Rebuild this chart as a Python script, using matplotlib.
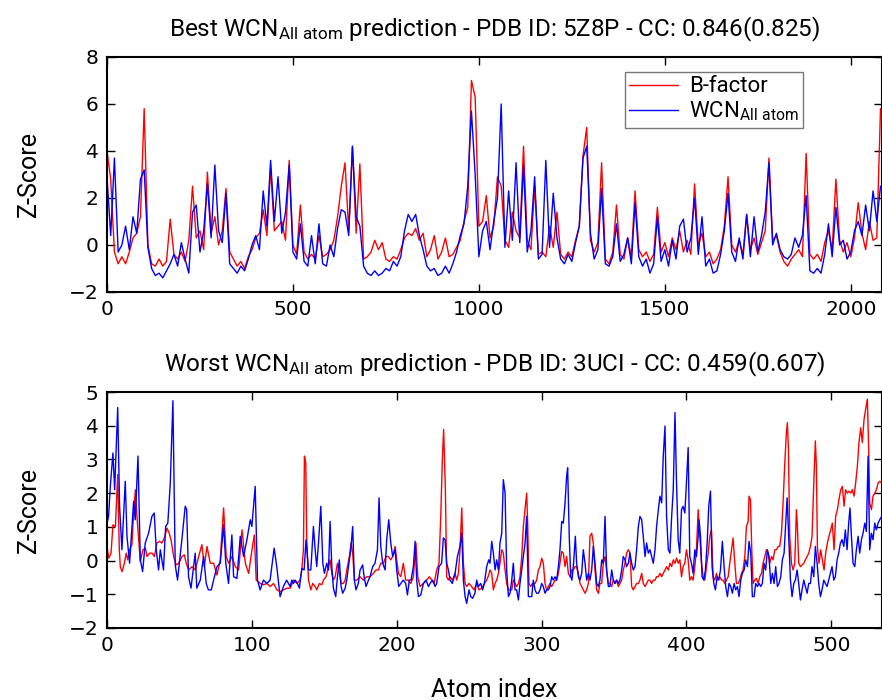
import matplotlib.pyplot as plt

plt.rcParams['font.family'] = ['Roboto', 'DejaVu Sans']
plt.rcParams['mathtext.fontset'] = 'custom'
plt.rcParams['mathtext.rm'] = 'Roboto'
plt.rcParams['mathtext.it'] = 'Roboto'

# Best case (5Z8P): values sampled every 10 atoms
best_atom = list(range(0, 2090, 10))
best_bfactor = [
    4.0, 2.8, -0.3, -0.8, -0.5, -0.8, -0.3, 0.3, 0.5, 1.2,
    5.8, 0.0, -0.8, -0.9, -0.6, -0.9, -0.7, 1.1, -0.4, -0.6,
    -0.3, -0.7, 0.2, 2.5, 0.3, 0.6, -0.2, 3.1, 0.5, 1.2,
    0.0, 0.6, 2.4, -0.3, -0.6, -0.9, -0.7, -1.0, -0.5, -0.2,
    0.3, 0.5, 1.5, 0.4, 3.3, 0.6, 0.8, 1.0, 0.2, 3.6,
    0.0, -0.4, 1.7, -0.3, -0.6, -0.4, -0.6, 0.4, -0.5, -0.4,
    -0.2, 0.2, 1.2, 2.5, 3.5, 0.6, 4.2, 0.5, 3.45, -0.6,
    -0.5, -0.3, 0.2, -0.2, 0.1, -0.6, -0.7, -0.5, -0.6, -0.2,
    0.3, 0.5, 0.4, 0.7, 0.2, 0.5, -0.5, -0.2, 0.4, -0.6,
    -0.3, 0.3, -0.5, -0.4, -0.1, 0.2, 1.0, 1.6, 7.0, 6.3,
    0.8, 1.0, 2.1, 0.3, 0.8, 2.9, 2.5, 0.2, -0.1, 1.4,
    0.6, 0.3, 4.2, 0.2, -0.2, 2.5, -0.4, -0.3, -0.5, 0.8,
    -0.1, 1.4, -0.4, -0.6, -0.3, -0.5, 0.2, 0.8, 3.8, 5.0,
    0.2, -0.3, 0.1, 3.5, -0.6, -0.8, -0.3, 1.7, -0.4, -0.6,
    0.3, -0.5, 2.3, -0.2, -0.5, -0.3, -0.7, -0.4, 1.6, -0.3,
    0.1, -0.5, 0.3, -0.2, 0.6, -0.3, 0.2, -0.4, 2.6, 0.0,
    0.5, -0.5, -0.3, -0.8, -0.6, -0.2, 0.8, 2.9, 0.0, -0.3,
    0.2, -0.4, 1.3, -0.2, 0.3, -0.4, 0.1, 0.6, 3.7, 0.2,
    0.4, -0.3, -0.7, -0.9, -0.6, -0.4, -0.2, -0.5, 3.9, -0.4,
    -0.6, -0.4, -0.7, 0.1, 0.6, -0.2, 2.8, 0.2, -0.3, 0.1,
    -0.5, 0.3, 1.8, 0.5, -0.2, 1.0, 0.2, 0.3, 5.8,
]
best_wcn = [
    2.9, 0.4, 3.7, -0.3, 0.0, 0.8, -0.2, 1.2, 0.5, 2.8,
    3.2, -0.1, -1.0, -1.3, -1.2, -1.4, -1.1, -0.8, -0.4, -0.9,
    0.1, -0.6, -1.2, 1.4, 1.7, -0.3, 0.6, 2.6, 0.3, 3.4,
    0.6, 0.1, 2.2, -0.8, -1.0, -1.2, -0.9, -1.1, -0.6, 0.0,
    0.4, -0.2, 2.3, 0.8, 3.6, 1.0, 2.9, 0.5, 1.4, 3.4,
    -0.3, -0.6, 0.9, -0.7, -0.9, 0.4, -0.8, 0.9, -0.8, -0.9,
    0.0, -0.5, 0.7, 1.5, 1.4, 0.4, 4.2, 1.2, 0.8, -0.9,
    -1.2, -1.3, -1.1, -1.3, -1.2, -1.0, -1.1, -0.7, -0.9, -0.5,
    0.6, 1.3, 1.0, 1.3, 0.4, -0.2, -0.9, -1.1, -1.0, -1.3,
    -1.2, -0.9, -1.2, -0.8, -0.3, 0.4, 0.9, 2.5, 5.7, 3.0,
    -0.5, 0.6, 1.0, -0.2, 1.0, 2.0, 6.0, -0.1, 2.3, 0.2,
    3.5, 0.1, 3.4, -0.3, 0.6, 2.9, -0.6, -0.4, 3.6, -0.1,
    2.2, 0.3, -0.6, -0.8, -0.4, -0.7, 0.1, 0.8, 3.7, 4.2,
    0.5, -0.6, -0.2, 2.4, -0.8, -0.9, -0.5, 0.9, -0.7, -0.4,
    0.3, -0.8, 1.8, -0.5, -0.9, -0.6, -1.2, -0.8, 1.2, -0.7,
    -0.2, -0.9, 0.2, -0.6, 0.8, 1.1, -0.3, 0.3, 2.0, -0.4,
    1.2, -0.9, -0.6, -1.2, -1.1, -0.4, 0.6, 2.2, -0.3, -0.7,
    0.3, -0.6, 1.3, -0.5, 1.2, -0.3, 0.4, 1.4, 3.5, 0.0,
    0.5, -0.2, -0.5, -0.6, -0.4, 0.3, -0.1, 0.4, 2.1, -1.1,
    -1.2, -1.0, -1.2, -0.4, 0.9, -0.5, 1.6, 0.0, 0.2, -0.6,
    -0.3, 0.6, 1.0, 0.4, 1.7, 0.6, 2.3, 1.0, 2.5,
]

# Worst case (3UCI)
worst_bf_atom = [
    0, 1.2, 2.8, 4.1, 5.8, 7.4, 8.5, 9.2, 10.4, 12, 13.3, 14.3, 15.6, 17.2, 18.4, 19.6,
    20.7, 21.9, 23, 24.8, 26.5, 27.6, 29.4, 31.1, 32.7, 34.5, 36.3, 37.9, 39.6, 41.4,
    43, 44.4, 46, 47.8, 49.5, 51.8, 53.4, 54.7, 56.4, 58.7, 61, 63.3, 65.5, 67.2, 69,
    71.3, 73.6, 75.9, 78.2, 80.5, 82.3, 84, 86.3, 88.6, 90.9, 93.2, 95.5, 97.8, 100.1,
    101.7, 103, 105.8, 108.1, 110.4, 112.7, 115, 117.3, 119.6, 121.9, 124.2, 126.5,
    128.8, 131.1, 133.3, 134.5, 135.6, 136.3, 137.2, 137.9, 139.1, 140.7, 142, 143.7,
    144.8, 146.6, 148.3, 149.4, 151.2, 152.9, 154, 155.2, 156.3, 157.5, 159.1, 160.4,
    161.6, 163.2, 164.4, 166, 167.3, 168.5, 169.6, 170.8, 172.4, 174.7, 177, 179.3,
    181.6, 183.9, 185.7, 187.4, 189, 190.8, 192.6, 194.2, 195.9, 197.2, 198.9, 200,
    201.2, 202.8, 204.6, 206.2, 208, 209.7, 211.5, 213.3, 214.5, 216.1, 218.4, 220.7,
    222.5, 224.2, 225.8, 227.6, 229.2, 230.4, 231.5, 232.4, 233.6, 234.5, 235.7, 236.8,
    238.4, 240.3, 241.4, 242.6, 243.7, 244.9, 246, 247.2, 248.3, 249.9, 251.7, 253.4,
    255.2, 256.8, 258.7, 260.5, 262.1, 263.5, 264.4, 265.6, 266.7, 267.9, 269, 270.2,
    271.3, 272.5, 273.6, 274.8, 275.9, 277.1, 278.2, 279.4, 280.5, 281.7, 282.8, 284,
    285.1, 286.3, 287.4, 288.6, 289.7, 290.4, 291.3, 292.5, 293.6, 295.5, 296.6, 297.8,
    298.9, 300.1, 301.2, 302.4, 303.5, 304.7, 305.8, 307, 308.1, 309.3, 310.4, 311.6,
    312.7, 313.9, 315, 316.2, 317.3, 318.5, 319.6, 320.8, 321.9, 323.1, 324.2, 325.4,
    326.5, 327.7, 328.8, 330, 331.1, 332.3, 333.4, 334.6, 335.7, 336.9, 338, 339.2,
    340.3, 341.5, 342.6, 343.8, 344.9, 346.1, 347.2, 348.4, 349.5, 350.7, 351.8, 353,
    354.1, 355.3, 356.4, 357.6, 358.7, 359.9, 361, 362.2, 363.3, 364.5, 365.6, 366.8,
    367.9, 369.1, 370.2, 371.4, 372.5, 373.7, 374.8, 376, 377.1, 378.3, 379.4, 380.6,
    381.7, 382.9, 384, 385.2, 386.3, 387.5, 388.6, 389.8, 390.9, 392.1, 393.2, 394.4,
    395.5, 396.6, 397.7, 398.9, 400, 401.2, 402.3, 403.5, 404.6, 405.8, 406.9, 408.1,
    409.2, 410.4, 411.5, 412.7, 413.8, 415, 416.1, 417.3, 418.4, 419.6, 420.7, 421.9,
    423, 424.2, 425.3, 426.5, 427.6, 428.8, 429.9, 431.1, 432.2, 433.4, 434.5, 435.7,
    436.8, 438, 439.1, 440.3, 441.4, 442.6, 443.2, 444.2, 445.1, 446, 447.2, 448.3,
    449.5, 450.6, 451.8, 452.9, 454.1, 455.2, 456.4, 457.5, 458.7, 459.8, 461, 462.1,
    463.3, 464.4, 465.6, 466.7, 467.9, 469, 469.7, 470.4, 471.3, 472.5, 473.6, 474.8,
    475.9, 476.6, 477.5, 478.7, 479.8, 481, 482.1, 483.3, 484.4, 485.6, 486.7, 487.9,
    489, 489.7, 490.4, 491.5, 492.7, 493.8, 495, 496.1, 497.3, 498.4, 499.6, 500.7,
    501.9, 503, 504.2, 505.3, 506.5, 507.6, 508.8, 509.9, 511.1, 512.2, 513.4, 514.5,
    515.7, 516.8, 518, 519.1, 520.3, 521.4, 522.6, 523.7, 524.9, 525.8, 526.5, 527.7,
    528.8, 530, 531.1, 532.3, 533.4, 534.8,
]
worst_bfactor = [
    0.42, 0.07, 0.22, 1.06, 1.01, 2.55, 0.32, -0.18, -0.33, -0.08, 0.22, 0.02, 0.32, 0.47, 1.41, 2.1,
    1.31, 0.62, -0.03, 0.32, 0.37, 0.12, 0.22, 0.22, 0.12, 0.52, 0.57, 0.52, 0.67, 0.96,
    0.81, 0.57, 0.12, -0.13, -0.08, 0.12, 0.17, -0.08, -0.28, -0.18, -0.28, 0.12, 0.47, -0.18, 0.42,
    -0.08, -0.08, -0.43, 0.02, 1.56, 0.12, -0.08, 0.12, -0.18, -0.28, 0.91, -0.08, -0.38, 0.32,
    0.76, -0.58, -0.68, -0.72, -0.68, -0.77, -0.68, -0.87, -0.92, -0.87, -0.82, -0.82,
    -0.58, -0.68, -0.58, -0.28, 0.32, 3.1, 2.9, 0.62, -0.58, -0.87, -0.68, -0.77,
    -0.87, -0.68, -0.72, -0.58, -0.48, -0.18, 0.02, -0.38, -0.58, -0.48, -0.08, -0.38,
    -0.68, -0.68, -0.58, -0.18, 0.12, 0.52, 0.22, -0.58, -0.58, -0.48, -0.58, -0.48,
    -0.48, -0.38, -0.28, -0.28, -0.08, -0.08, 0.12, 0.12, 0.02, 0.12, 0.42, 0.02,
    -0.38, -0.48, -0.08, -0.58, -0.58, -0.68, -0.48, 0.52, -0.48, -0.77, -0.68, -0.58,
    -0.48, -0.58, -0.68, -0.28, -0.08, 1.31, 3.0, 3.89, 2.1, -0.48, -0.58, -0.48,
    -0.58, -0.38, -0.58, -0.38, 0.32, 1.56, -0.08, -0.68, -0.77, -0.68, -0.77, -0.87,
    -0.68, -0.87, -0.82, -0.68, -0.58, -0.43, -0.28, -0.38, -0.87, -0.68, -0.58, -0.38,
    -0.08, 0.32, 0.22, -0.28, -0.68, -0.87, -0.87, -0.87, -0.58, -0.68, -0.77, -0.68,
    -0.48, 0.12, 1.01, 1.51, 2.0, 1.11, -0.68, -0.77, -0.68, -0.68, -0.58, -0.28,
    -0.18, 0.07, -0.08, -0.68, -0.87, -0.77, -0.68, -0.77, -0.68, -0.58, -0.58, -0.38,
    -0.08, 0.27, 0.22, -0.18, 0.12, -0.38, -0.48, -0.28, -0.28, -0.18, -0.18, -0.38,
    -0.68, -0.77, -0.87, -0.97, -0.87, -0.68, 0.72, 0.81, 0.52, -0.28, -0.87, -0.97,
    -0.68, -0.68, -0.08, 0.12, -0.28, -0.68, -0.68, -0.77, -0.58, -0.68, -0.58, -0.77,
    -0.68, -0.58, -0.28, -0.08, 0.22, 0.32, 0.22, -0.77, -0.87, -0.77, -0.68, -0.68,
    -0.58, -0.38, -0.68, -0.77, -0.68, -0.58, -0.58, -0.68, -0.58, -0.58, -0.48, -0.48,
    -0.38, -0.48, -0.38, -0.28, -0.18, -0.28, -0.08, -0.18, 0.02, -0.08, 0.07, -0.08,
    0.02, -0.48, -0.18, -0.08, 0.32, 0.02, -0.58, -0.48, -0.58, -0.18, 0.32, 1.51,
    0.72, -0.08, -0.48, -0.58, -0.18, 0.22, 0.72, 0.91, -0.48, -0.58, -0.38, -0.58,
    -0.48, -0.58, -0.58, -0.68, -0.58, -0.48, -0.08, 0.32, 0.67, -0.08, -0.68, -0.68,
    -0.58, -0.38, -0.28, 0.12, 1.01, 1.16, 1.91, 1.81, 0.32, -0.68, -0.58, -0.53,
    -0.68, -0.48, -0.38, -0.08, 0.12, 0.32, 0.22, -0.08, 0.12, 0.02, 0.32, 0.32,
    0.42, 0.42, 0.81, 1.71, 2.9, 3.79, 4.09, 3.3, 0.72, -0.08, -0.28, -0.08,
    1.51, 1.01, -0.08, -0.18, -0.13, -0.08, 0.02, 0.12, 0.22, 0.42, 0.72, 2.3,
    3.55, 2.8, 0.42, -0.08, 0.32, 0.02, -0.28, 0.22, 0.52, 0.72, 0.91, 1.11,
    0.32, 1.31, 1.51, 1.81, 2.1, 2.2, 1.61, 2.1, 2.0, 2.06, 2.0, 2.1,
    1.91, 2.3, 2.8, 3.5, 3.94, 3.5, 4.19, 4.49, 4.79, 3.3, 1.71, 1.51,
    1.91, 2.0, 2.1, 2.3, 2.35, 2.3,
]
worst_wcn_atom = [
    0, 1.1, 2.3, 4.1, 5.3, 7.4, 8.7, 10.3, 12.6, 13.8, 15.6, 18.4, 19.5, 21.4, 23, 24.6,
    26.4, 28.7, 31, 32.6, 34, 35.6, 36.8, 39, 40.5, 42, 43.7, 45.5, 47.1, 48.7, 51.7,
    54, 55, 56.3, 58, 59.8, 60.9, 62, 64.4, 66.7, 68.5, 70, 72, 73.6, 75.9, 78.2, 80.5,
    82, 83.9, 86.2, 87.4, 89.7, 92, 94.3, 96.6, 98.9, 100, 102.3, 103.9, 105.7, 108,
    110.3, 112.6, 115.4, 117.2, 119.5, 121.8, 124, 126.4, 127.6, 128.7, 129.9, 131.5,
    132.8, 134.5, 136.1, 137.4, 139.1, 140.7, 142.5, 143.7, 144.8, 146, 147.6, 149,
    150.1, 151.7, 152.9, 154, 155.2, 156.3, 157.9, 159.1, 160.4, 161.6, 162.7, 164.4,
    165.5, 167.3, 168.3, 169.6, 170.8, 171.9, 173.5, 174.7, 176.5, 177.5, 178.8, 180.5,
    181.6, 183.4, 185, 186.7, 187.8, 189, 190.3, 192, 193.1, 194.5, 195.9, 197.2,
    198.9, 200, 201.4, 202.8, 204.6, 206.2, 207.4, 208.7, 209.9, 211.5, 212.7, 213.8,
    215, 216.6, 218.4, 220.2, 221.9, 223, 224.8, 226.5, 227.6, 229.2, 231, 232.2,
    233.4, 234.5, 235.7, 236.8, 238.4, 240.3, 241.9, 243.7, 244.9, 246, 247.2, 248.3,
    249.9, 251.1, 252.4, 254, 255.2, 256.4, 258, 259.3, 260.5, 262.1, 263.5, 264.4,
    265.6, 266.7, 267.9, 269, 270.2, 271.3, 272.5, 273.6, 274.8, 275.9, 277.1, 278.2,
    279.4, 280.5, 281.7, 282.8, 284, 285.1, 286.3, 287.4, 288.6, 289.7, 290.9, 292,
    293.2, 294.3, 295.5, 296.6, 297.8, 298.9, 300.1, 301.2, 302.4, 303.5, 304.7, 305.8,
    307, 308.1, 309.3, 310.4, 311.6, 312.7, 313.9, 315, 316.2, 317.3, 318, 319.1, 320.1,
    321, 322.1, 323.3, 324.2, 325.4, 326.5, 327.7, 328.8, 330, 331.1, 332.3, 333.4,
    334.6, 335.7, 336.9, 338, 339.2, 340.3, 341.5, 342.6, 343.8, 344.9, 346.1, 347.2,
    348.4, 349.5, 350.7, 351.8, 353, 354.1, 355.3, 356.4, 357.6, 358.7, 359.9, 361,
    362.2, 363.3, 364.5, 365.6, 366.8, 367.9, 369.1, 370.2, 371.4, 372.5, 373.7, 374.8,
    376, 377.1, 378.3, 379.4, 380.6, 381.7, 382.9, 384, 385.2, 386.3, 387.5, 388.6,
    389.8, 390.9, 392.1, 393.1, 394.3, 395.4, 396.6, 397.7, 398.9, 400, 401.2, 402.3,
    403.5, 404.6, 405.8, 406.9, 408.1, 408.7, 409.7, 410.8, 412, 413.1, 414.3, 415.4,
    416.6, 417.7, 418.9, 420, 421.2, 422.3, 423.5, 424.8, 426, 427.1, 428.3, 429.4,
    430.6, 431.7, 432.9, 434, 435.2, 436.3, 437.5, 438.6, 439.8, 440.9, 442.1, 443.2,
    444.4, 445.5, 446.7, 447.8, 449, 450.1, 451.3, 452.4, 453.6, 454.7, 455.9, 457,
    458.2, 459.3, 460.5, 461.6, 462.8, 463.9, 465.1, 466.2, 467.4, 468.5, 469.5, 470.6,
    471.8, 472.9, 474.1, 475.2, 476.4, 477.5, 478.7, 479.8, 481, 482.1, 483.3, 484.4,
    485.6, 486.7, 487.9, 489, 490.2, 491.3, 492.5, 493.6, 494.8, 495.9, 497.1, 498.2,
    499.4, 500.5, 501.7, 502.8, 504, 505.1, 506.3, 507.4, 508.6, 509.7, 510.9, 512,
    512.9, 513.9, 515, 516.2, 517.3, 518.5, 519.6, 520.8, 521.9, 523.1, 524.2, 525.4,
    526.5, 527.7, 528.8, 530, 531.1, 532.3, 533.4, 534.8,
]
worst_wcn = [
    1.1, 1.31, 2.2, 3.19, 2.1, 4.54, 1.61, 0.32, 2.35, 0.72, -0.08, 1.76, 1.21, 3.1, 0.02, -0.33,
    0.52, 0.81, 1.31, 1.41, 0.32, -0.28, 0.32, -0.28, 1.01, 1.11, 2.3, 4.74, -0.13, -0.58, 0.62,
    1.61, 1.51, -0.48, -0.82, -0.18, 0.22, -0.82, -0.58, 0.12, -0.68, -0.87, -0.87, -0.58, -0.18, -0.08, 1.06,
    -0.08, -0.68, 0.76, -0.48, -0.53, 0.72, 0.12, 0.62, 1.21, 1.01, 2.2, -0.58, -0.87, -0.58,
    -0.68, -0.58, 0.37, -0.18, -1.07, -0.77, -0.58, -0.77, -0.58, -0.68, -0.58, -0.68,
    -0.82, -0.23, -0.28, 0.62, -0.28, -0.28, 1.01, 0.32, -0.18, 0.52, 1.61, -0.08,
    -0.38, -0.08, -0.28, 1.16, -0.18, -0.82, -1.07, -0.48, 0.02, -0.77, -0.97, -0.82,
    -0.58, 0.02, 0.32, 1.01, -0.58, -0.87, -0.68, -0.28, -0.13, -0.48, -0.77, -0.58,
    -0.48, -0.18, -0.08, 0.32, 1.86, 0.42, -0.08, -0.28, 0.62, 1.21, 0.52, 0.12,
    0.32, -0.28, -0.77, -0.68, -0.58, -0.68, -1.02, -0.58, -0.58, -0.18, 0.57, -0.58,
    -1.07, -1.02, -0.68, -0.58, -0.77, -0.68, -0.58, -0.77, -0.68, -0.18, -0.08, 0.67,
    0.62, -0.08, -0.28, -0.58, -0.68, -0.38, 0.12, 0.42, 0.81, -0.58, -1.07, -1.27,
    -0.87, -1.07, -1.12, -0.97, -0.58, -0.77, -0.68, -0.87, -0.68, -0.18, 0.02, -0.08,
    0.57, 0.22, -0.28, 0.02, -0.28, 0.52, 0.81, 2.4, 2.0, -0.28, -1.07, -0.97,
    -0.58, -0.08, -0.87, -0.87, -1.17, -0.68, -0.28, 0.12, 0.52, 1.31, -1.07, -1.07,
    -1.07, -0.58, -0.87, -0.97, -0.97, -0.87, -0.68, -0.77, -0.97, -0.87, -0.87, -0.77,
    -0.48, -0.58, -0.48, -0.58, -0.18, 0.32, 1.16, 1.11, 1.71, 2.5, 2.75, 0.72, -0.48,
    -0.58, -0.08, 0.72, -0.08, -0.48, -0.58, -0.38, 0.32, -0.08, -0.58, -0.38, -0.58,
    -0.28, 0.42, -0.08, -0.68, -0.77, -0.58, 0.02, -0.08, 1.31, -0.28, -0.77, -0.77,
    -0.28, -0.58, -0.68, -0.58, -0.68, -0.58, -0.28, 0.12, 0.02, -0.18, -0.08, 0.22,
    -0.08, -0.28, -0.18, 0.32, 1.01, 1.31, 1.21, 0.72, 0.12, 0.52, 0.22, 0.32,
    0.12, -0.08, 0.32, 1.01, 1.51, 1.91, 1.71, 3.1, 3.99, 1.31, 0.32, 0.22,
    1.31, 2.1, 4.39, 2.4, 0.62, 0.22, 1.51, 1.61, 1.41, 2.3, 3.35, 0.12,
    -0.08, -0.38, 0.32, 0.12, 0.72, 1.21, 0.72, -0.48, -0.58, -0.28, 0.52, 1.61,
    2.06, -0.18, -0.68, -0.87, -0.48, -0.58, -0.28, 0.57, -0.18, -0.77, -1.07, -0.68,
    -0.77, -0.97, -0.68, -0.87, -0.77, -1.07, -0.58, -0.38, -0.28, 0.02, -0.18, 0.57,
    0.22, -1.07, -1.07, -0.68, -0.77, -0.68, -0.77, -0.68, -0.08, -0.28, 0.32, 0.12,
    -0.68, -0.38, -0.68, -0.18, -0.77, -0.68, -0.48, 0.02, 0.22, 1.11, 1.86, 0.72,
    -0.58, -1.07, -0.68, -0.58, -0.28, -0.68, -1.17, -0.87, -0.58, -0.77, -0.97, -0.68,
    -0.68, -0.18, -0.48, 0.42, -0.08, -0.68, -1.07, -0.87, -0.58, -0.68, -0.77, -0.58,
    -0.38, -0.18, -0.58, -0.48, 0.02, 0.22, 0.52, 0.62, 0.42, 0.91, 0.32, 1.11,
    1.56, 0.72, -0.08, -0.18, 0.32, 0.72, 0.22, 0.62, 0.81, 1.11, 0.86, 3.1,
    0.32, 0.81, 0.62, 1.11, 0.91, 1.11, 1.21, 1.31,
]

RED = '#ff0000'
BLUE = '#0000ff'
SUB = r'WCN$_{\mathrm{All\ atom}}$'

fig = plt.figure(figsize=(8.82, 7), dpi=100)
ax1 = fig.add_axes([0.1213, 0.5829, 0.8787, 0.3357])
ax2 = fig.add_axes([0.1213, 0.1029, 0.8787, 0.3371])

ax1.plot(best_atom, best_bfactor, color=RED, lw=1.0, label='B-factor')
ax1.plot(best_atom, best_wcn, color=BLUE, lw=1.0, label=SUB)
ax1.set_xlim(0, 2084)
ax1.set_ylim(-2, 8)
ax1.set_xticks([0, 500, 1000, 1500, 2000])
ax1.set_yticks([-2, 0, 2, 4, 6, 8])
ax1.set_title('Best ' + SUB + ' prediction - PDB ID: 5Z8P - CC: 0.846(0.825)',
              fontsize=17.5, pad=15)
ax1.set_ylabel('Z-Score', fontsize=18, labelpad=20)
leg = ax1.legend(loc='upper right', bbox_to_anchor=(0.898, 0.936), borderaxespad=0,
                 fontsize=16, fancybox=False, edgecolor='#555555', handlelength=2.2,
                 handletextpad=0.5, labelspacing=0.1, borderpad=0.2)
leg.get_frame().set_linewidth(1.0)

ax2.plot(worst_bf_atom, worst_bfactor, color=RED, lw=1.0)
ax2.plot(worst_wcn_atom, worst_wcn, color=BLUE, lw=1.0)
ax2.set_xlim(0, 535)
ax2.set_ylim(-2, 5)
ax2.set_xticks([0, 100, 200, 300, 400, 500])
ax2.set_yticks(range(-2, 6))
ax2.set_title('Worst ' + SUB + ' prediction - PDB ID: 3UCI - CC: 0.459(0.607)',
              fontsize=17.5, pad=15)
ax2.set_ylabel('Z-Score', fontsize=18, labelpad=20)
ax2.set_xlabel('Atom index', fontsize=18, labelpad=16)

for ax in (ax1, ax2):
    ax.tick_params(direction='in', top=True, right=True, length=6, width=1.0,
                   labelsize=14.5, pad=6)
    for lab in ax.get_xticklabels() + ax.get_yticklabels():
        lab.set_family('DejaVu Sans')
    for sp in ax.spines.values():
        sp.set_linewidth(1.5)

fig.savefig('out.png', dpi=100)
